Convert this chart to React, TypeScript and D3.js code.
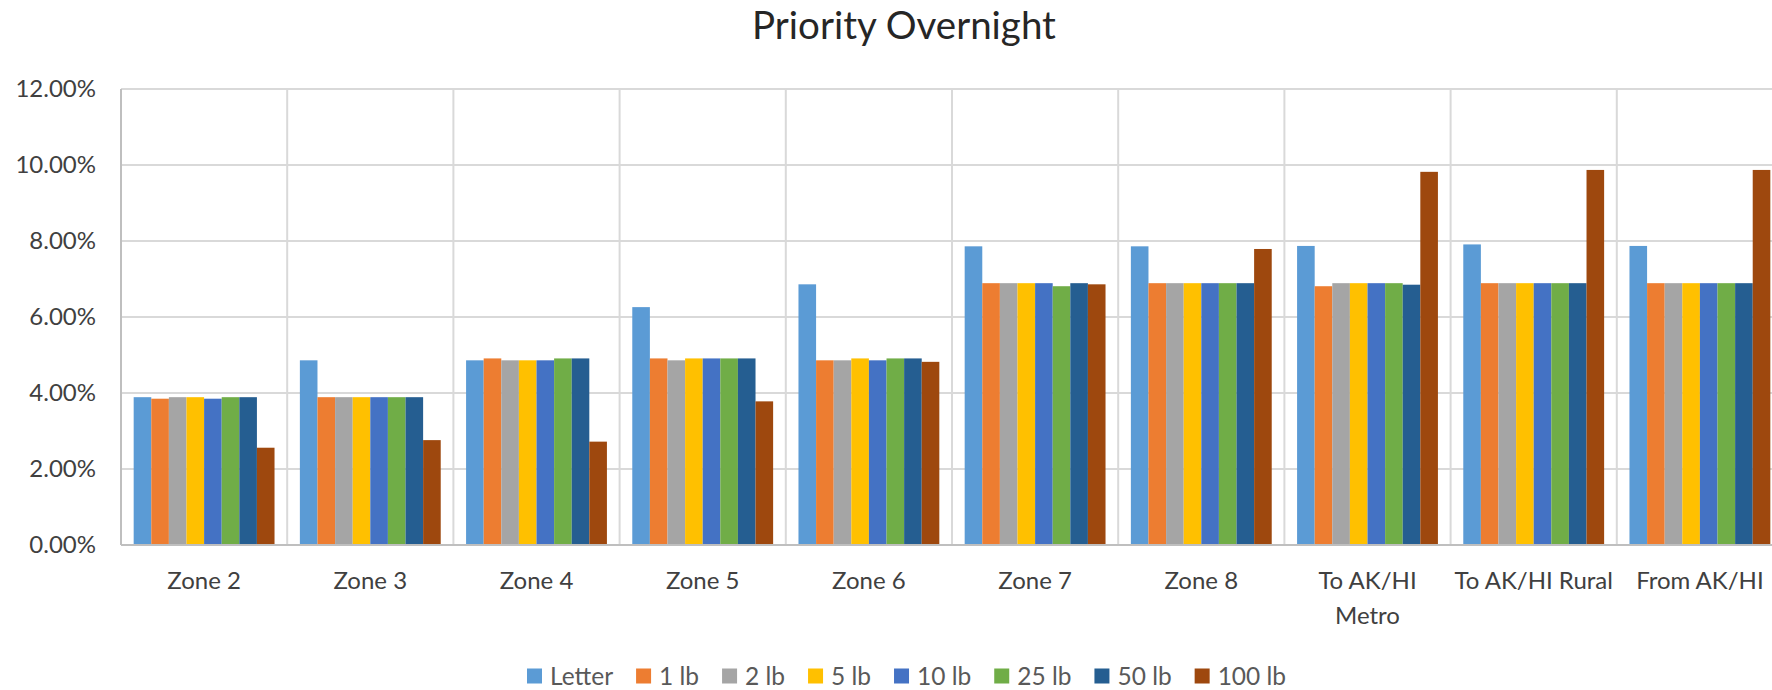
import React, { useEffect, useRef } from "react";
import * as d3 from "d3";

const title = "Priority Overnight";

const categories = [
  "Zone 2", "Zone 3", "Zone 4", "Zone 5", "Zone 6", "Zone 7", "Zone 8",
  "To AK/HI Metro", "To AK/HI Rural", "From AK/HI",
];

const seriesNames = ["Letter", "1 lb", "2 lb", "5 lb", "10 lb", "25 lb", "50 lb", "100 lb"];
const seriesColors = ["#5B9BD5", "#ED7D31", "#A5A5A5", "#FFC000", "#4472C4", "#70AD47", "#255E91", "#9E480E"];

// percent values per series, one per category
const letter = [3.89, 4.86, 4.86, 6.26, 6.86, 7.86, 7.86, 7.87, 7.91, 7.87];
const lb1 = [3.85, 3.89, 4.91, 4.91, 4.86, 6.89, 6.89, 6.81, 6.89, 6.89];
const lb2 = [3.89, 3.89, 4.86, 4.86, 4.86, 6.89, 6.89, 6.89, 6.89, 6.89];
const lb5 = [3.89, 3.89, 4.86, 4.91, 4.91, 6.89, 6.89, 6.89, 6.89, 6.89];
const lb10 = [3.85, 3.89, 4.86, 4.91, 4.86, 6.89, 6.89, 6.89, 6.89, 6.89];
const lb25 = [3.89, 3.89, 4.91, 4.91, 4.91, 6.81, 6.89, 6.89, 6.89, 6.89];
const lb50 = [3.89, 3.89, 4.91, 4.91, 4.91, 6.89, 6.89, 6.85, 6.89, 6.89];
const lb100 = [2.56, 2.76, 2.72, 3.78, 4.82, 6.86, 7.79, 9.82, 9.87, 9.87];

const seriesValues = [letter, lb1, lb2, lb5, lb10, lb25, lb50, lb100];

const yTicks = [0, 0.02, 0.04, 0.06, 0.08, 0.1, 0.12];

const FONT = "Lato, 'Open Sans', sans-serif";

export default function App() {
  const svgRef = useRef<SVGSVGElement | null>(null);

  useEffect(() => {
    const svg = d3.select(svgRef.current);
    svg.selectAll("*").remove();

    const left = 121;
    const top = 89;
    const bottom = 545;
    const catWidth = 166.2;

    const x = d3.scaleBand()
      .domain(categories)
      .range([left, left + catWidth * categories.length])
      .padding(0);
    const xs = d3.scaleBand()
      .domain(seriesNames)
      .range([0, x.bandwidth()])
      .paddingInner(0)
      .paddingOuter(0.72);
    const y = d3.scaleLinear().domain([0, 0.12]).range([bottom, top]);

    // title
    svg.append("text")
      .attr("x", 904)
      .attr("y", 39)
      .attr("text-anchor", "middle")
      .attr("font-family", FONT)
      .attr("font-size", 38.5)
      .attr("fill", "#262626")
      .text(title);

    // horizontal gridlines
    svg.append("g")
      .selectAll("line")
      .data(yTicks.slice(1))
      .join("line")
      .attr("x1", left)
      .attr("x2", 1772)
      .attr("y1", (d) => y(d))
      .attr("y2", (d) => y(d))
      .attr("stroke", "#d9d9d9")
      .attr("stroke-width", 2);

    // vertical gridlines at category boundaries
    svg.append("g")
      .selectAll("line")
      .data(categories.slice(1))
      .join("line")
      .attr("x1", (d) => x(d)!)
      .attr("x2", (d) => x(d)!)
      .attr("y1", top)
      .attr("y2", bottom)
      .attr("stroke", "#d9d9d9")
      .attr("stroke-width", 2);

    // y labels
    svg.append("g")
      .selectAll("text")
      .data(yTicks)
      .join("text")
      .attr("x", 96)
      .attr("y", (d) => y(d))
      .attr("dy", "0.35em")
      .attr("text-anchor", "end")
      .attr("font-family", FONT)
      .attr("font-size", 24)
      .attr("fill", "#404040")
      .text((d) => d3.format(".2%")(d));

    // bars
    const groups = svg.append("g")
      .selectAll("g")
      .data(seriesNames)
      .join("g")
      .attr("fill", (_, i) => seriesColors[i]);
    groups.selectAll("rect")
      .data((_, i) => seriesValues[i].map((v, j) => ({ cat: categories[j], v: v / 100 })))
      .join("rect")
      .attr("x", function (d) {
        const s = d3.select((this as any).parentNode).datum() as string;
        return x(d.cat)! + xs(s)!;
      })
      .attr("width", xs.bandwidth())
      .attr("y", (d) => y(d.v))
      .attr("height", (d) => bottom - y(d.v));

    // axis lines
    svg.append("line")
      .attr("x1", left).attr("x2", left)
      .attr("y1", top).attr("y2", bottom)
      .attr("stroke", "#bfbfbf").attr("stroke-width", 2);
    svg.append("line")
      .attr("x1", left).attr("x2", 1772)
      .attr("y1", bottom).attr("y2", bottom)
      .attr("stroke", "#bfbfbf").attr("stroke-width", 2);

    // x labels, wrapped to the category width
    const xl = svg.append("g")
      .selectAll("text")
      .data(categories)
      .join("text")
      .attr("x", (d) => x(d)! + x.bandwidth() / 2)
      .attr("y", 581)
      .attr("text-anchor", "middle")
      .attr("font-family", FONT)
      .attr("font-size", 24)
      .attr("fill", "#404040");
    xl.each(function (d) {
      const t = d3.select(this);
      const cx = x(d)! + x.bandwidth() / 2;
      let line: string[] = [];
      let tspan = t.append("tspan").attr("x", cx).attr("dy", "0.35em");
      for (const w of d.split(" ")) {
        line.push(w);
        tspan.text(line.join(" "));
        if ((tspan.node() as SVGTSpanElement).getComputedTextLength() > 166 && line.length > 1) {
          line.pop();
          tspan.text(line.join(" "));
          line = [w];
          tspan = t.append("tspan").attr("x", cx).attr("dy", 35).text(w);
        }
      }
    });

    // legend
    const legend = svg.append("g").attr("font-family", FONT).attr("font-size", 24.5);
    let lx = 527;
    const ly = 676;
    seriesNames.forEach((name, i) => {
      legend.append("rect")
        .attr("x", lx)
        .attr("y", ly - 7.5)
        .attr("width", 15)
        .attr("height", 15)
        .attr("fill", seriesColors[i]);
      const txt = legend.append("text")
        .attr("x", lx + 23)
        .attr("y", ly)
        .attr("dy", "0.35em")
        .attr("fill", "#595959")
        .text(name);
      const w = (txt.node() as SVGTextElement).getComputedTextLength();
      lx += 23 + w + 23;
    });
  }, []);

  return (
    <svg
      ref={svgRef}
      width={1772}
      height={690}
      viewBox="0 0 1772 690"
      style={{ position: "absolute", left: 0, top: 0, background: "#fff" }}
    />
  );
}
